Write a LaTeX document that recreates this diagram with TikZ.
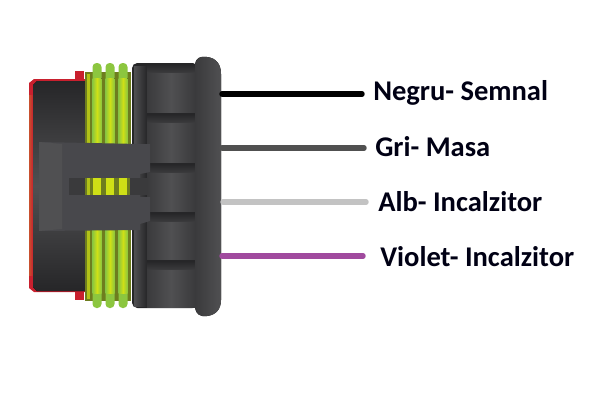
\documentclass[tikz,border=0pt]{standalone}
\usepackage{fontspec}
\setmainfont{Carlito}
\definecolor{ribg}{HTML}{8CC63F}
\definecolor{ylw}{HTML}{CFE016}
\definecolor{olive}{HTML}{6E7D1E}
\definecolor{dk}{HTML}{3A3A3C}
\definecolor{dkk}{HTML}{262628}
\definecolor{md}{HTML}{505052}
\definecolor{clipc}{HTML}{48484C}
\definecolor{redc}{HTML}{C8202E}
\definecolor{orangec}{HTML}{C8502E}
\definecolor{wblack}{HTML}{000000}
\definecolor{wgrey}{HTML}{505050}
\definecolor{wlight}{HTML}{C3C3C3}
\definecolor{wviolet}{HTML}{A04A9E}
\tikzset{
  wire/.style={line width=4.1pt,line cap=round},
  lab/.style={font=\fontsize{21.4pt}{23pt}\selectfont\bfseries,anchor=west,inner sep=0pt,text=black!92!blue},
}
\begin{document}
\begin{tikzpicture}[x=0.75pt,y=-0.75pt]
\useasboundingbox (0,0) rectangle (600,400);
\fill[white] (0,0) rectangle (600,400);
% red shell
\fill[redc] (75,71) rectangle (84,80);
\fill[redc] (75,291) rectangle (84,300);
\fill[redc] (34,79) -- (85,79) -- (85,292) -- (34,292) -- (29,288) -- (29,83) -- cycle;
\fill[left color=orangec,right color=redc] (29,95) rectangle (33,275);
% dark body
\fill[top color=dkk,bottom color=dkk,middle color=md] (37,81) -- (85,81) -- (85,291) -- (37,291) -- (33,287) -- (33,85) -- cycle;
% seals
\fill[olive] (85,72) rectangle (131,301);
\fill[ylw!70!olive] (87,74) rectangle (90,299);
\foreach \xa in {97,110,123}{
  \fill[ribg,rounded corners=3pt] (\xa-4.5,63) rectangle (\xa+4.5,308);
  \fill[left color=ribg,right color=ribg,middle color=ylw] (\xa-4.5,78) rectangle (\xa+4.5,293);
}
% housing
\fill[dkk,rounded corners=4pt] (132,63) rectangle (198,308);
\fill[left color=md,right color=dkk] (134,66) rectangle (147,306);
\foreach \ya/\yb in {64/112,114/162,164/211,213/259,261/307}{
  \fill[left color=dk,right color=dk,middle color=md] (147,\ya) rectangle (195,\yb);
  \fill[top color=dkk,bottom color=dk] (147,\ya) rectangle (195,\ya+8);
}
% flange
\fill[left color=dk,right color=md] (195,64) .. controls (196,58) and (200,56) .. (207,57)
  .. controls (216,58) and (221,64) .. (221,74) -- (221,300)
  .. controls (221,309) and (216,315) .. (207,316)
  .. controls (200,317) and (196,314) .. (195,308) -- cycle;
% clip
\fill[clipc] (39,142) -- (140,144) -- (150,144) -- (150,172) -- (140,174) -- (140,178) -- (69,178)
  -- (69,195) -- (140,195) -- (140,197) -- (150,197) -- (150,221) -- (140,224) -- (140,230) -- (39,231) -- cycle;
\fill[md] (39,142) -- (62,144) -- (62,229) -- (39,231) -- cycle;
\fill[dk] (69,178) rectangle (85,195);
\fill[olive] (85,178) rectangle (130,195);
\foreach \xa in {97,110,123}{\fill[ylw] (\xa-4,178) rectangle (\xa+4,195);}
\fill[ylw!70!olive] (87,178) rectangle (90,195);
\fill[dk] (130,178) rectangle (147,195);
% wires
\coordinate (wa) at (222,94); \coordinate (wb) at (222,148);
\coordinate (wc) at (223,202); \coordinate (wd) at (222,256);
\coordinate (ea) at (362,94); \coordinate (eb) at (364,148);
\coordinate (ec) at (366,202); \coordinate (ed) at (363,256);
\draw[wire,wblack] (wa) -- (ea);
\draw[wire,wgrey] (wb) -- (eb);
\draw[wire,wlight] (wc) -- (ec);
\draw[wire,wviolet] (wd) -- (ed);
% labels
\node[lab] (la) at (373,93) {Negru- Semnal};
\node[lab] (lb) at (375,147) {Gri- Masa};
\node[lab] (lc) at (378,202) {Alb- Incalzitor};
\node[lab] (ld) at (380,257) {Violet- Incalzitor};
\end{tikzpicture}
\end{document}
